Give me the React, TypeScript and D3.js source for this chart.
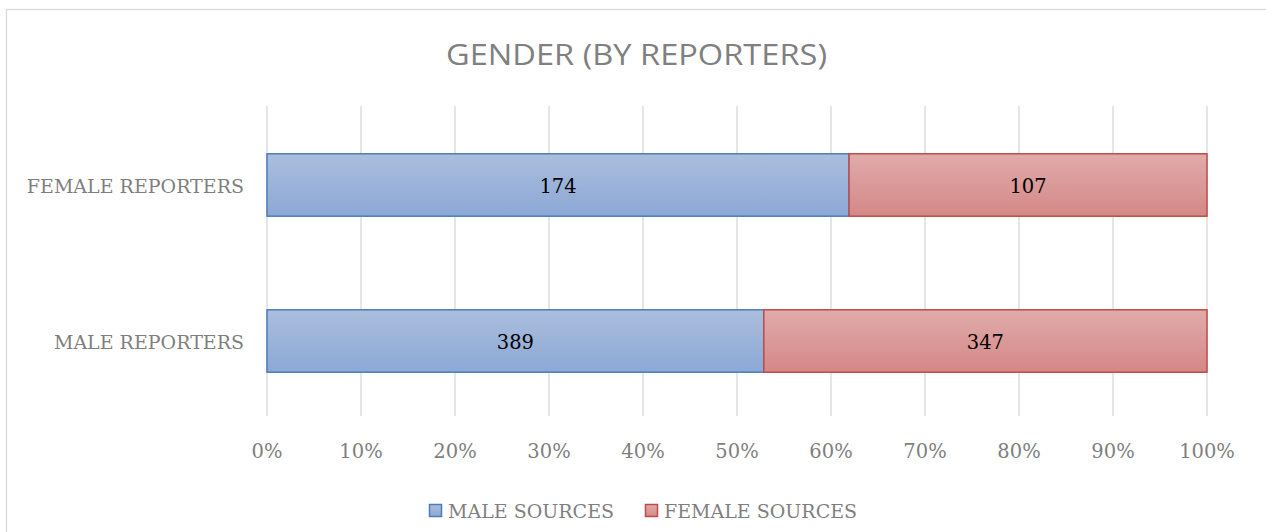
import React from "react";
import * as d3 from "d3";

const categories = ["FEMALE REPORTERS", "MALE REPORTERS"];
const seriesNames = ["MALE SOURCES", "FEMALE SOURCES"];
const maleSources = [174, 389];
const femaleSources = [107, 347];
const tickValues = [0, 0.1, 0.2, 0.3, 0.4, 0.5, 0.6, 0.7, 0.8, 0.9, 1.0];

const W = 1266;
const H = 532;

export default function App() {
  const x = d3.scaleLinear().domain([0, 1]).range([267, 1207]);
  const y = d3.scaleBand().domain(categories).range([107, 419]).paddingInner(0.6).paddingOuter(0.3);
  const fmt = d3.format(".0%");
  const serif = "'DejaVu Serif', serif";
  const grey = "#7f7f7f";

  const rows = categories.map((c, i) => {
    const total = maleSources[i] + femaleSources[i];
    return {
      cat: c,
      segs: [
        { v: maleSources[i], x0: 0, x1: maleSources[i] / total, s: 0 },
        { v: femaleSources[i], x0: maleSources[i] / total, x1: 1, s: 1 },
      ],
    };
  });
  const fills = ["url(#gBlue)", "url(#gRed)"];
  const strokes = ["#4a7ebb", "#be4b48"];

  return (
    <svg width={W} height={H} style={{ position: "absolute", left: 0, top: 0, background: "#fff" }}>
      <defs>
        <linearGradient id="gBlue" x1="0" y1="0" x2="0" y2="1">
          <stop offset="0" stopColor="#abbedd" />
          <stop offset="1" stopColor="#8ca8d6" />
        </linearGradient>
        <linearGradient id="gRed" x1="0" y1="0" x2="0" y2="1">
          <stop offset="0" stopColor="#e0abaa" />
          <stop offset="1" stopColor="#d48886" />
        </linearGradient>
      </defs>
      <rect x={6.5} y={9.5} width={1300} height={600} fill="#fff" stroke="#d9d9d9" strokeWidth={1.3} />
      <text
        x={636.5}
        y={65}
        textAnchor="middle"
        fontFamily="'Open Sans', sans-serif"
        fontSize={30}
        fill="#808080"
        textLength={381}
        lengthAdjust="spacingAndGlyphs"
      >
        GENDER (BY REPORTERS)
      </text>
      {tickValues.map((t) => (
        <line key={t} x1={x(t)} x2={x(t)} y1={106} y2={416} stroke="#d9d9d9" strokeWidth={1.3} />
      ))}
      {tickValues.map((t) => (
        <text key={"l" + t} x={x(t)} y={458} textAnchor="middle" fontFamily={serif} fontSize={19.5} fill={grey}>
          {fmt(t)}
        </text>
      ))}
      {rows.map((r) => (
        <g key={r.cat}>
          <text x={244} y={(y(r.cat) as number) + y.bandwidth() / 2 + 7.5} textAnchor="end" fontFamily={serif} fontSize={19} fill={grey}>
            {r.cat}
          </text>
          {r.segs.map((s) => (
            <g key={s.s}>
              <rect
                x={x(s.x0)}
                y={y(r.cat)}
                width={x(s.x1) - x(s.x0)}
                height={y.bandwidth()}
                fill={fills[s.s]}
                stroke={strokes[s.s]}
                strokeWidth={1.5}
              />
              <text
                x={(x(s.x0) + x(s.x1)) / 2}
                y={(y(r.cat) as number) + y.bandwidth() / 2 + 7.5}
                textAnchor="middle"
                fontFamily={serif}
                fontSize={19.5}
                fill="#000"
              >
                {s.v}
              </text>
            </g>
          ))}
        </g>
      ))}
      {seriesNames.map((n, i) => {
        const lx = [429, 645][i];
        return (
          <g key={n}>
            <rect x={lx + 0.5} y={504.5} width={12} height={12} fill={fills[i]} stroke={strokes[i]} strokeWidth={1.5} />
            <text x={lx + 19} y={518} fontFamily={serif} fontSize={19} fill={grey}>
              {n}
            </text>
          </g>
        );
      })}
    </svg>
  );
}
